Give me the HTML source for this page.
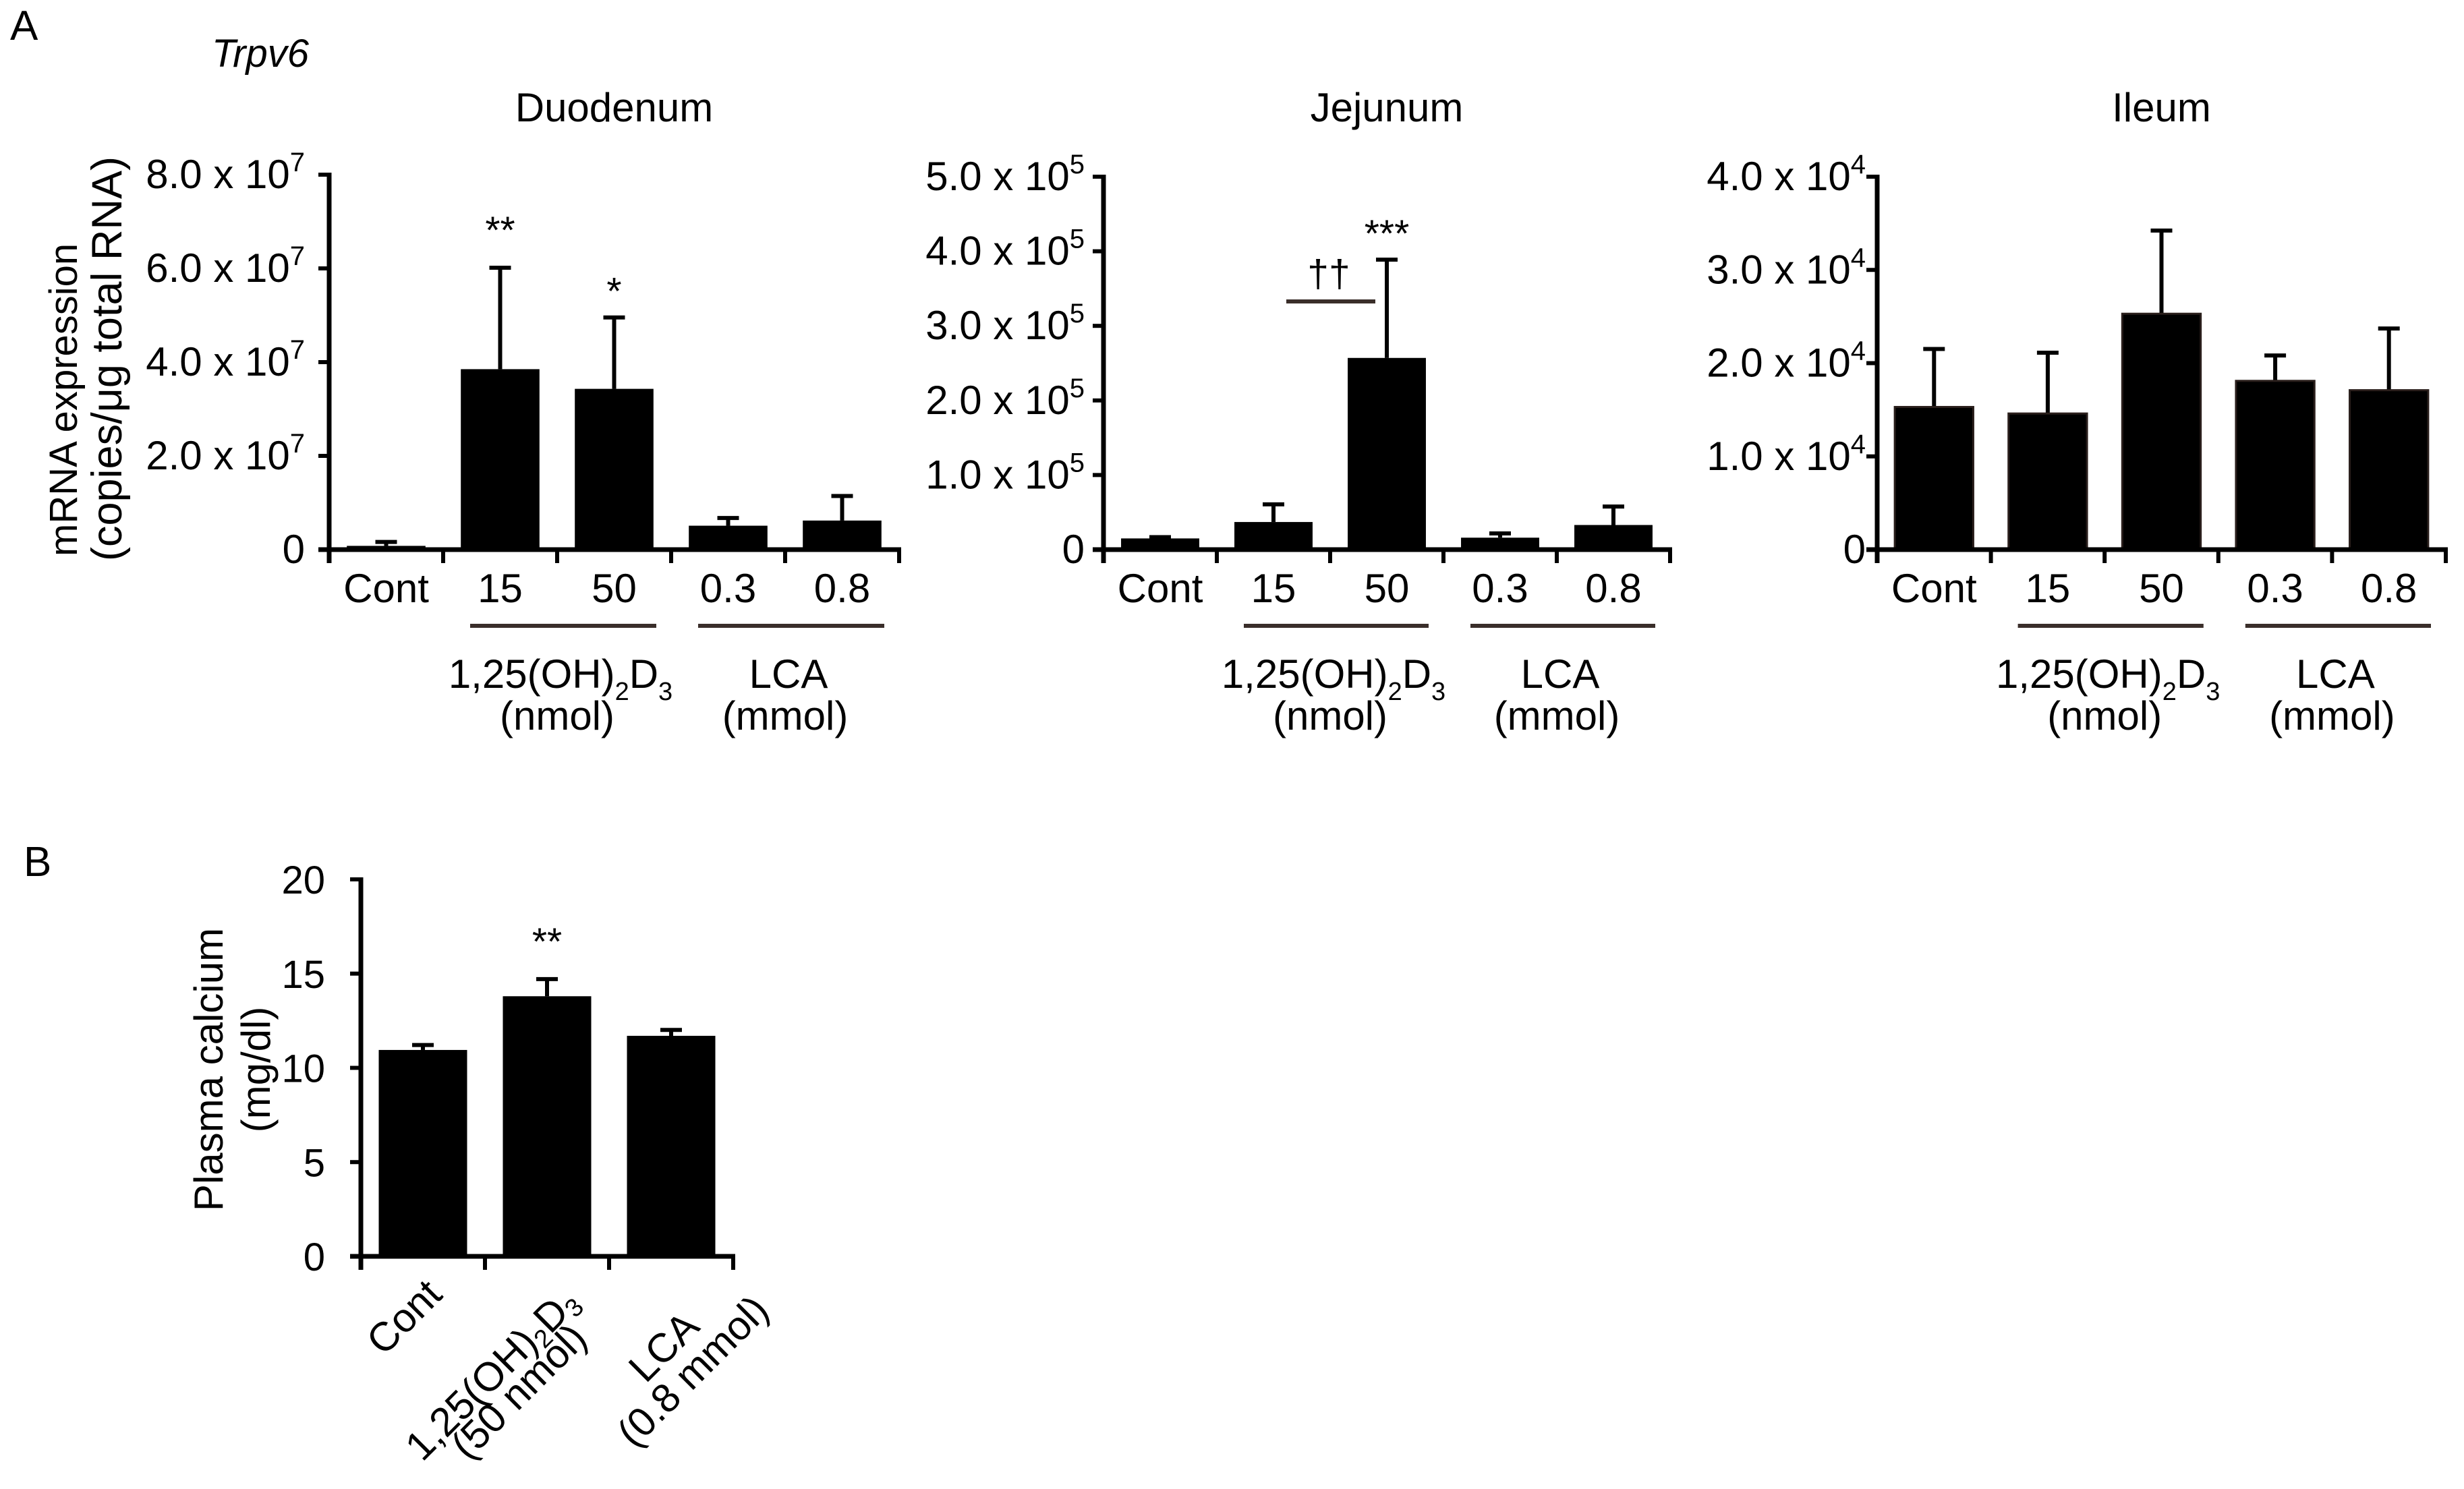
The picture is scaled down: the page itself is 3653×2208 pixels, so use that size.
<!DOCTYPE html>
<html><head><meta charset="utf-8">
<style>
html,body{margin:0;padding:0;background:#fff;}
svg{display:block;}
text{font-family:"Liberation Sans",Arial,sans-serif;fill:#000;}
</style></head>
<body>
<svg id="fig" width="3653" height="2208" viewBox="0 0 3653 2208" xmlns="http://www.w3.org/2000/svg">
<rect width="3653" height="2208" fill="#fff"/>
<text x="15" y="59" font-size="62">A</text>
<text x="314" y="99" font-size="58" font-style="italic">Trpv6</text>
<text x="35" y="1299" font-size="62">B</text>
<text transform="translate(114,825) rotate(-90)" text-anchor="start" font-size="58">mRNA expression</text>
<text transform="translate(180,832) rotate(-90)" text-anchor="start" font-size="63">(copies/μg total RNA)</text>
<text transform="translate(330,1586) rotate(-90)" text-anchor="middle" font-size="60">Plasma calcium</text>
<text transform="translate(400,1586) rotate(-90)" text-anchor="middle" font-size="60">(mg/dl)</text>
<g id="plots"></g>
</svg>
<script>
// ---- data ----
const categoriesA = ["Cont","15","50","0.3","0.8"];
const duoValues = [0.08, 3.85, 3.43, 0.51, 0.62];
const duoErrors = [0.2, 6.05, 4.99, 0.71, 1.18];
const duoTicks = [0, 2, 4, 6, 8];
const duoTickLabels = ["0","2.0 x 10","4.0 x 10","6.0 x 10","8.0 x 10"];
const jejValues = [0.15, 0.37, 2.57, 0.16, 0.33];
const jejErrors = [0.19, 0.63, 3.91, 0.24, 0.6];
const jejTicks = [0, 1, 2, 3, 4, 5];
const jejTickLabels = ["0","1.0 x 10","2.0 x 10","3.0 x 10","4.0 x 10","5.0 x 10"];
const ileValues = [1.53, 1.46, 2.53, 1.81, 1.71];
const ileErrors = [2.17, 2.13, 3.44, 2.10, 2.39];
const ileTicks = [0, 1, 2, 3, 4];
const ileTickLabels = ["0","1.0 x 10","2.0 x 10","3.0 x 10","4.0 x 10"];
const categoriesB = ["Cont","1,25(OH)2D3 (50 nmol)","LCA (0.8 mmol)"];
const calValues = [10.95, 13.8, 11.7];
const calErrors = [11.3, 14.8, 12.1];
const calTicks = [0, 5, 10, 15, 20];
const calTickLabels = ["0","5","10","15","20"];

const NS = "http://www.w3.org/2000/svg";
const root = document.getElementById("plots");
function mk(tag, attrs, parent){
  const e = document.createElementNS(NS, tag);
  for (const k in attrs) e.setAttribute(k, attrs[k]);
  (parent||root).appendChild(e);
  return e;
}

function panelA(p){
  const g = mk("g", {});
  
  
  const slot = (p.x1 - p.x0)/categoriesA.length;
  const yS = v => p.y0 - (v - p.ymin)/(p.ymax - p.ymin)*(p.y0 - p.ytop);
  const xC = i => p.x0 + slot*(i+0.5);
  const t = mk("text", {x:(p.x0+p.x1)/2, y:180, "font-size":60, "text-anchor":"middle"}, g);
  t.textContent = p.title;
  
  
  p.values.forEach((v,i)=>{
    const bw = slot*0.69;
    const ye = yS(p.errors[i]);
    const l = mk("line", {x1:xC(i), x2:xC(i), y1:ye, y2:yS(v), stroke:"#000","stroke-width":6}, g);
    
    
    const c = mk("line", {x1:xC(i)-16, x2:xC(i)+16, y1:ye+2.5, y2:ye+2.5, stroke:"#000","stroke-width":6}, g);
    
    
    const r = mk("rect", {x:xC(i)-bw/2, y:yS(v), width:bw, height:p.y0 - yS(v), fill:"#000"}, g);
    if (p.outline) { r.setAttribute("stroke","#2a1f1c"); r.setAttribute("stroke-width","3"); }
    
    
  });
  const ya = mk("line", {x1:p.x0, x2:p.x0, y1:p.ytop-3, y2:p.y0+20, stroke:"#000","stroke-width":7}, g);
  
  
  const xa = mk("line", {x1:p.x0-16, x2:p.x1+3, y1:p.y0, y2:p.y0, stroke:"#000","stroke-width":7}, g);
  
  
  for (let i=1;i<=categoriesA.length;i++){
    const tk = mk("line", {x1:p.x0+slot*i, x2:p.x0+slot*i, y1:p.y0, y2:p.y0+20, stroke:"#000","stroke-width":6}, g);
    
    
  }
  p.ticks.forEach((tv,i)=>{
    const y = yS(tv);
    const tk = mk("line", {x1:p.x0-16, x2:p.x0, y1:y, y2:y, stroke:"#000","stroke-width":6}, g);
    
    
    const tx = mk("text", {x:p.x0-p.labGap+22, y:y+20, "font-size":60, "text-anchor":"end"}, g);
    
    
    tx.textContent = p.tickLabels[i];
    if (tv !== 0){
      const s = mk("tspan", {"font-size":40, dy:-25}, tx);
      s.textContent = p.exp;
    }
  });
  categoriesA.forEach((c,i)=>{
    const tx = mk("text", {x:xC(i), y:893, "font-size":60, "text-anchor":"middle"}, g);
    tx.textContent = c;
    
    
  });
  [[1,2],[3,4]].forEach((pr,k)=>{
    const xs = p.x0 + slot*pr[0] + 40, xe = p.x0 + slot*(pr[1]+1) - 22;
    const ln = mk("line", {x1:xs, x2:xe, y1:928, y2:928, stroke:"#3a2e2a","stroke-width":6}, g);
    
    
    const cx = p.x0 + slot*(pr[1]);
    const t1 = mk("text", {x:cx+5, y:1020, "font-size":60, "text-anchor":"middle"}, g);
    
    
    if (k===0){
      t1.appendChild(document.createTextNode("1,25(OH)"));
      const s1 = mk("tspan", {"font-size":38, dy:18}, t1); s1.textContent="2";
      const s2 = mk("tspan", {dy:-18}, t1); s2.textContent="D";
      const s3 = mk("tspan", {"font-size":38, dy:18}, t1); s3.textContent="3";
    } else t1.textContent = "LCA";
    const t2 = mk("text", {x:cx, y:1082, "font-size":60, "text-anchor":"middle"}, g);
    t2.textContent = k===0 ? "(nmol)" : "(mmol)";
    
    
  });
  return {g, xC, yS, slot};
}

const duo = panelA({name:"duodenum", title:"Duodenum", x0:488, x1:1333, y0:815, ytop:259, ymin:0, ymax:8,
  values:duoValues, errors:duoErrors, ticks:duoTicks, tickLabels:duoTickLabels, exp:"7", labGap:58});
const jej = panelA({name:"jejunum", title:"Jejunum", x0:1636, x1:2476, y0:815, ytop:262, ymin:0, ymax:5,
  values:jejValues, errors:jejErrors, ticks:jejTicks, tickLabels:jejTickLabels, exp:"5", labGap:50});
const ile = panelA({name:"ileum", title:"Ileum", x0:2783, x1:3626, y0:815, ytop:262, ymin:0, ymax:4,
  values:ileValues, errors:ileErrors, ticks:ileTicks, tickLabels:ileTickLabels, exp:"4", labGap:39, outline:true});

function star(txt, x, y, name){
  const t = mk("text", {x:x, y:y, "font-size":57, "text-anchor":"middle"});
  t.textContent = txt;
  
  
}
star("**", duo.xC(1), duo.yS(duoErrors[1]) - 34, "duodenum-sig-15");
star("*", duo.xC(2), duo.yS(duoErrors[2]) - 17, "duodenum-sig-50");
star("***", jej.xC(2), jej.yS(jejErrors[2]) - 17, "jejunum-sig-50");
const br = mk("line", {x1:jej.xC(1)+19, x2:jej.xC(2)-17, y1:447, y2:447, stroke:"#3a2e2a","stroke-width":6});


star("††", (jej.xC(1)+jej.xC(2))/2 - 2, 425, "jejunum-dagger");

(function(){
  const x0 = 535, x1 = 1087, y0 = 1863, ytop = 1304, ymax = 20;
  const slot = (x1 - x0)/categoriesB.length;
  const yS = v => y0 - v/ymax*(y0 - ytop);
  const xC = i => x0 + slot*(i+0.5);
  const g = mk("g", {});
  
  
  calValues.forEach((v,i)=>{
    const bw = 131;
    const ye = yS(calErrors[i]);
    const l = mk("line", {x1:xC(i), x2:xC(i), y1:ye, y2:yS(v), stroke:"#000","stroke-width":6}, g);
    
    
    const c = mk("line", {x1:xC(i)-16, x2:xC(i)+16, y1:ye+2.5, y2:ye+2.5, stroke:"#000","stroke-width":6}, g);
    
    
    const r = mk("rect", {x:xC(i)-bw/2, y:yS(v), width:bw, height:y0-yS(v), fill:"#000"}, g);
    
    
  });
  const ya = mk("line", {x1:x0, x2:x0, y1:ytop-3, y2:y0+20, stroke:"#000","stroke-width":7}, g);
  
  
  const xa = mk("line", {x1:x0-16, x2:x1+3, y1:y0, y2:y0, stroke:"#000","stroke-width":7}, g);
  
  
  for (let i=1;i<=categoriesB.length;i++){
    const tk = mk("line", {x1:x0+slot*i, x2:x0+slot*i, y1:y0, y2:y0+20, stroke:"#000","stroke-width":6}, g);
    
    
  }
  calTicks.forEach((tv,i)=>{
    const y = yS(tv);
    const tk = mk("line", {x1:x0-16, x2:x0, y1:y, y2:y, stroke:"#000","stroke-width":6}, g);
    
    
    const tx = mk("text", {x:482, y:y+21, "font-size":58, "text-anchor":"end"}, g);
    tx.textContent = calTickLabels[i];
    
    
  });
  const labelPos = [[-28,1953],[-82,2037],[-11,1997]];
  const line2Pos = [null,[-42,2063],[32,2033]];
  const t0 = mk("text", {transform:`translate(${xC(0)+labelPos[0][0]},${labelPos[0][1]}) rotate(-45)`, "font-size":60, "text-anchor":"middle", "dominant-baseline":"central"}, g);
  t0.textContent = "Cont";
  
  
  const t1 = mk("text", {transform:`translate(${xC(1)+labelPos[1][0]},${labelPos[1][1]}) rotate(-45)`, "font-size":60, "text-anchor":"middle", "dominant-baseline":"central"}, g);
  
  
  t1.appendChild(document.createTextNode("1,25(OH)"));
  const a = mk("tspan", {"font-size":38, dy:18}, t1); a.textContent = "2";
  const b = mk("tspan", {dy:-18}, t1); b.textContent = "D";
  const c = mk("tspan", {"font-size":38, dy:18}, t1); c.textContent = "3";
  const t1b = mk("text", {transform:`translate(${xC(1)+line2Pos[1][0]},${line2Pos[1][1]}) rotate(-45)`, "font-size":60, "text-anchor":"middle", "dominant-baseline":"central"}, g);
  t1b.textContent = "(50 nmol)";
  
  
  const t2 = mk("text", {transform:`translate(${xC(2)+labelPos[2][0]},${labelPos[2][1]}) rotate(-45)`, "font-size":60, "text-anchor":"middle", "dominant-baseline":"central"}, g);
  t2.textContent = "LCA";
  
  
  const t2b = mk("text", {transform:`translate(${xC(2)+line2Pos[2][0]},${line2Pos[2][1]}) rotate(-45)`, "font-size":60, "text-anchor":"middle", "dominant-baseline":"central"}, g);
  t2b.textContent = "(0.8 mmol)";
  
  
  star("**", xC(1), yS(calErrors[1]) - 34, "calcium-sig-vitd");
})();
</script>
</body></html>
